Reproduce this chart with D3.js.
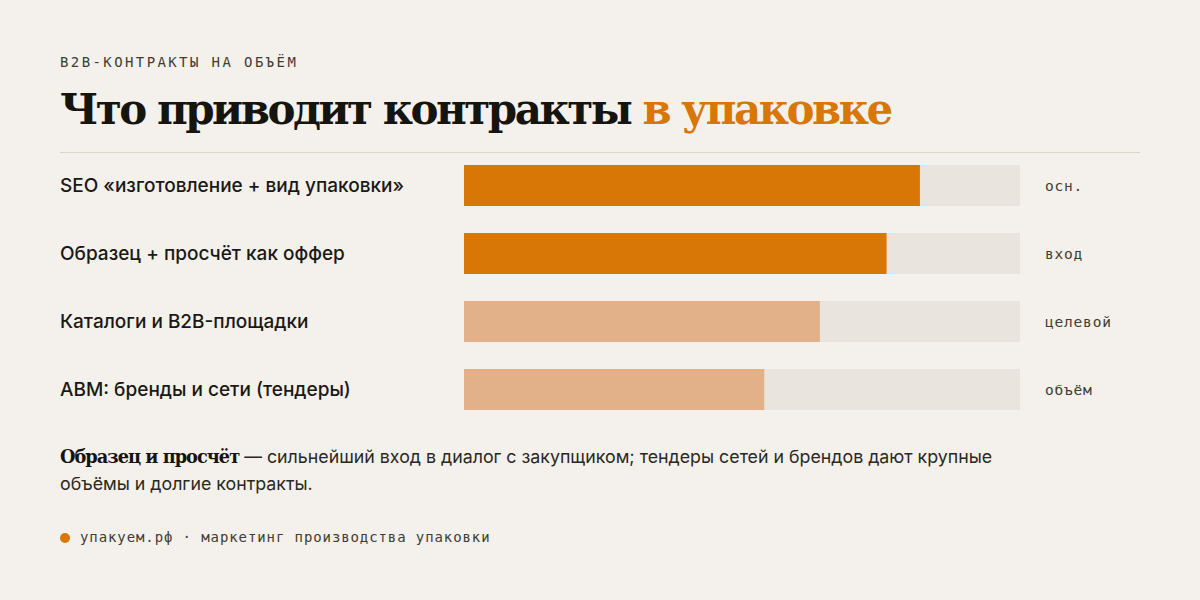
<!DOCTYPE html>
<html>
<head>
<meta charset="utf-8">
<script src="https://cdn.jsdelivr.net/npm/d3@7"></script>
<style>
  body { margin: 0; background: #f4f0eb; }
  svg { display: block; }
</style>
</head>
<body>
<svg id="chart" width="1200" height="600"></svg>
<script>
const categories = [
  "SEO «изготовление + вид упаковки»",
  "Образец + просчёт как оффер",
  "Каталоги и B2B-площадки",
  "ABM: бренды и сети (тендеры)",
];
const values = [82, 76, 64, 54];
const tags = ["осн.", "вход", "целевой", "объём"];
const highlight = [true, true, false, false];

const mono = "'DejaVu Sans Mono', 'Liberation Mono', monospace";
const sans = "Inter, 'Noto Sans', sans-serif";
const serif = "'DejaVu Serif', 'Liberation Serif', serif";

const svg = d3.select("#chart");

svg.append("rect").attr("width", 1200).attr("height", 600).attr("fill", "#f4f0eb");

svg.append("text")
  .attr("x", 60).attr("y", 67)
  .attr("font-family", mono).attr("font-size", 14)
  .attr("letter-spacing", 2.4)
  .attr("fill", "#423d31")
  .text("B2B-КОНТРАКТЫ НА ОБЪЁМ");

const title = svg.append("text")
  .attr("x", 60).attr("y", 124)
  .attr("font-family", serif).attr("font-weight", 700)
  .attr("font-size", 42)
  .attr("letter-spacing", -2.5)
  .attr("fill", "#15140f");
title.append("tspan").text("Что приводит контракты ");
title.append("tspan").attr("fill", "#d97706").text("в упаковке");

svg.append("line")
  .attr("x1", 60).attr("x2", 1140).attr("y1", 152.5).attr("y2", 152.5)
  .attr("stroke", "#ddd5c8").attr("stroke-width", 1);

const x = d3.scaleLinear().domain([0, 100]).range([464, 1020]);
const y = d3.scaleBand().domain(categories).range([165 - 13.5, 410 + 13.5]).paddingInner(27 / 68).paddingOuter(13.5 / 68);

const rows = svg.append("g").selectAll("g")
  .data(categories)
  .join("g")
  .attr("transform", (d) => `translate(0, ${y(d)})`);

rows.append("rect")
  .attr("x", x(0)).attr("width", x(100) - x(0))
  .attr("height", y.bandwidth())
  .attr("fill", "#e9e4dd");

rows.append("rect")
  .attr("x", x(0))
  .attr("width", (d, i) => x(values[i]) - x(0))
  .attr("height", y.bandwidth())
  .attr("fill", (d, i) => (highlight[i] ? "#d97706" : "#e2b089"));

rows.append("text")
  .attr("x", 60).attr("y", y.bandwidth() / 2)
  .attr("dy", "0.35em")
  .attr("font-family", sans).attr("font-size", 19).attr("font-weight", 500)
  .attr("fill", "#1a1915")
  .text((d) => d);

rows.append("text")
  .attr("x", 1045).attr("y", y.bandwidth() / 2)
  .attr("dy", "0.35em")
  .attr("font-family", mono).attr("font-size", 14.5)
  .attr("letter-spacing", 0.8)
  .attr("fill", "#423d31")
  .text((d, i) => tags[i]);

const note = svg.append("text")
  .attr("font-family", sans).attr("font-size", 17.8)
  .attr("fill", "#2a2823");
const l1 = note.append("tspan").attr("x", 60).attr("y", 463);
l1.append("tspan").attr("font-family", serif).attr("font-weight", 700).attr("letter-spacing", -1)
  .attr("fill", "#15140f").text("Образец и просчёт");
l1.append("tspan").text(" — сильнейший вход в диалог с закупщиком; тендеры сетей и брендов дают крупные");
note.append("tspan").attr("x", 60).attr("y", 490).text("объёмы и долгие контракты.");

svg.append("circle").attr("cx", 65).attr("cy", 538).attr("r", 5).attr("fill", "#d97706");
svg.append("text")
  .attr("x", 80).attr("y", 542)
  .attr("font-family", mono).attr("font-size", 14)
  .attr("letter-spacing", 0.9)
  .attr("fill", "#423d31")
  .text("упакуем.рф · маркетинг производства упаковки");
</script>
</body>
</html>
